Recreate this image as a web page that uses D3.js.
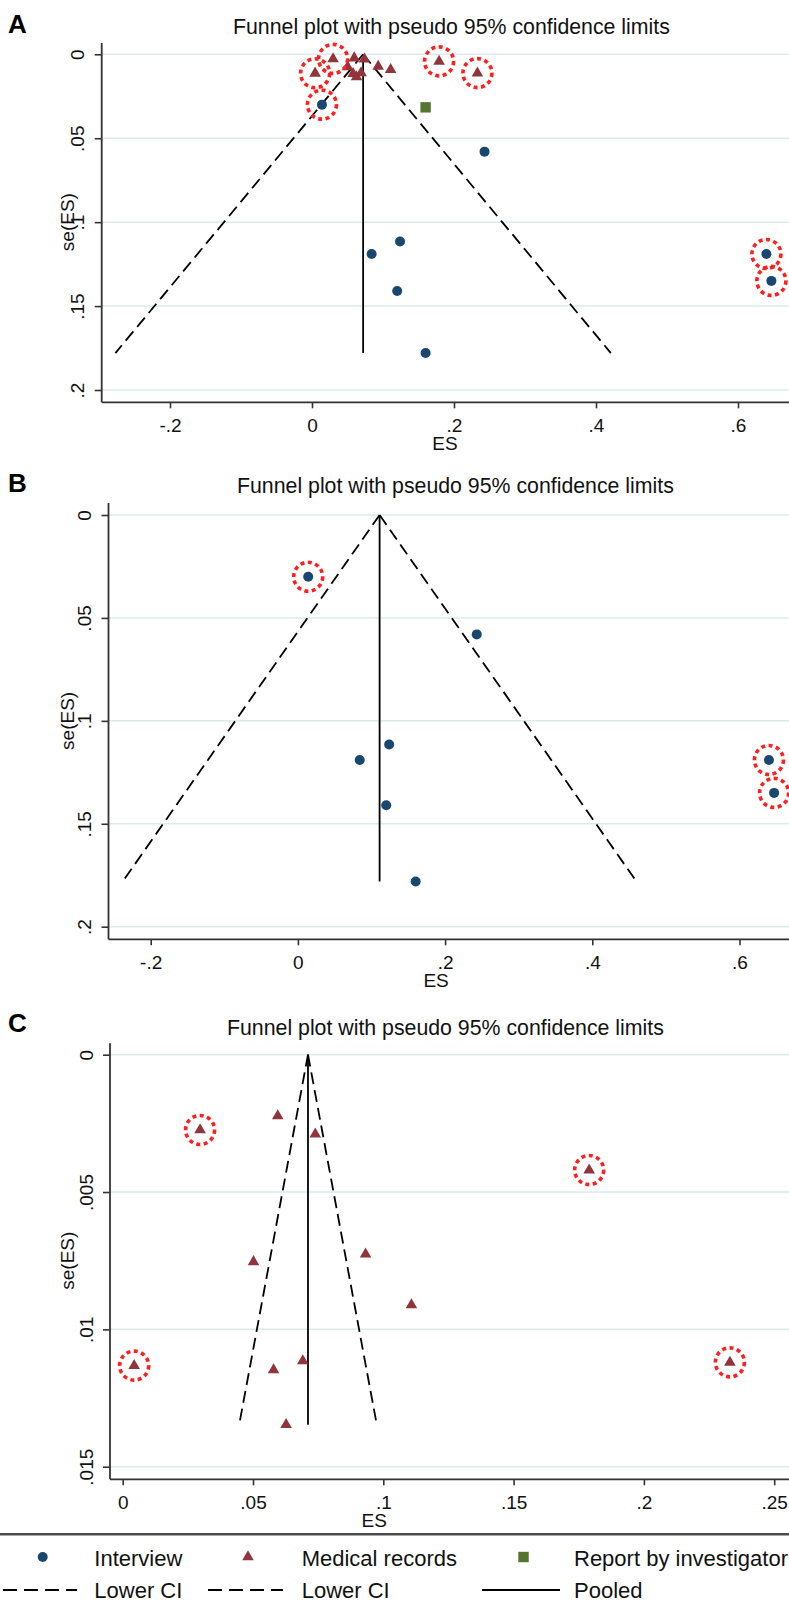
<!doctype html>
<html>
<head>
<meta charset="utf-8">
<title>Funnel plots with pseudo 95% confidence limits</title>
<style>
  body { margin: 0; background: #fff; }
  svg { display: block; font-family: "Liberation Sans", Arial, sans-serif; }
</style>
</head>
<body>
<svg width="789" height="1609"></svg>
<script src="https://d3js.org/d3.v7.min.js"></script>
<script>
// study estimates
var interviewES   = [0.014, 0.243, 0.124, 0.084, 0.120, 0.160, 0.640, 0.647];
var interviewSE   = [0.030, 0.058, 0.1115, 0.119, 0.141, 0.178, 0.119, 0.135];
var interviewFlag = [1, 0, 0, 0, 0, 0, 1, 1];

var medicalES   = [0.0595, 0.0297, 0.0739, 0.179, 0.0932, 0.0502, 0.1108, 0.0044, 0.233, 0.0691, 0.0579, 0.0627];
var medicalSE   = [0.00223, 0.00274, 0.00289, 0.0042, 0.00726, 0.00754, 0.00911, 0.01132, 0.0112, 0.01115, 0.01148, 0.01347];
var medicalFlag = [0, 1, 0, 1, 0, 0, 0, 1, 1, 0, 0, 0];

var reportES   = [0.160];
var reportSE   = [0.0316];
var reportFlag = [0];

// pooled estimate and largest se (bottom of funnel) per panel
var panelNames  = ["A", "B", "C"];
var pooledES    = [0.072, 0.111, 0.0711];
var funnelMaxSE = [0.178, 0.178, 0.01347];
var xTickValues = [[-0.2, 0, 0.2, 0.4, 0.6], [-0.2, 0, 0.2, 0.4, 0.6], [0, 0.05, 0.1, 0.15, 0.2, 0.25]];
var yTickValues = [[0, 0.05, 0.1, 0.15, 0.2], [0, 0.05, 0.1, 0.15, 0.2], [0, 0.005, 0.01, 0.015]];

var titleText = "Funnel plot with pseudo 95% confidence limits";
var legendRow1 = ["Interview", "Medical records", "Report by investigator"];
var legendRow2 = ["Lower CI", "Lower CI", "Pooled"];

var navy = "#1a476f", maroon = "#90353b", green = "#55752f", axisCol = "#333", gridCol = "#dde9ed";

function zip(es, se, flag) {
  return es.map(function(d, i) { return { es: d, se: se[i], flag: flag[i] }; });
}
var interview = zip(interviewES, interviewSE, interviewFlag),
    medical = zip(medicalES, medicalSE, medicalFlag),
    report = zip(reportES, reportSE, reportFlag);

// layout of each panel in the page
var layout = [
  { sets: ["interview", "medical", "report"], left: 101.7, top: 43, y0: 54.3, y1: 390, axisY: 402.3,
    xd: [-0.2, 0.6], xr: [170, 738], letterY: 33, titleX: 233, titleY: 34 },
  { sets: ["interview"], left: 108.5, top: 503, y0: 515, y1: 926.7, axisY: 939.3,
    xd: [-0.2, 0.6], xr: [150.7, 739.5], letterY: 492, titleX: 237, titleY: 493 },
  { sets: ["medical"], left: 110, top: 1043.3, y0: 1054.7, y1: 1466.7, axisY: 1479.3,
    xd: [0, 0.25], xr: [122.7, 774.2], letterY: 1032, titleX: 227, titleY: 1035 }
];

var svg = d3.select("svg"),
    width = +svg.attr("width");

function fmt(v) {
  if (v === 0) return "0";
  return String(+v.toFixed(4)).replace(/^(-?)0\./, "$1.");
}

layout.forEach(function(L, p) {
  var yt = yTickValues[p];
  var x = d3.scaleLinear().domain(L.xd).range(L.xr);
  var y = d3.scaleLinear().domain([0, yt[yt.length - 1]]).range([L.y0, L.y1]);
  var g = svg.append("g");

  // grid
  g.selectAll(".grid")
    .data(yt)
    .enter()
    .append("line")
    .attr("x1", L.left).attr("x2", width)
    .attr("y1", function(d) { return y(d); })
    .attr("y2", function(d) { return y(d); })
    .style("stroke", gridCol)
    .style("stroke-width", 1.5);

  // x axis
  var xa = g.append("g")
    .attr("transform", "translate(0," + L.axisY + ")")
    .call(d3.axisBottom(x).tickValues(xTickValues[p]).tickFormat(fmt).tickSize(6).tickPadding(10));
  xa.select(".domain").remove();
  xa.selectAll("line").style("stroke", axisCol).style("stroke-width", 1.6);
  xa.selectAll("text").style("font-size", "19px").style("fill", "#111");

  // y axis with rotated labels
  var ya = g.append("g")
    .attr("transform", "translate(" + L.left + ",0)")
    .call(d3.axisLeft(y).tickValues(yt).tickFormat(fmt).tickSize(7));
  ya.select(".domain").remove();
  ya.selectAll("line").style("stroke", axisCol).style("stroke-width", 1.6);
  ya.selectAll("text")
    .attr("x", 0)
    .attr("dy", "0.35em")
    .attr("text-anchor", "middle")
    .attr("transform", "translate(-24,0) rotate(-90)")
    .style("font-size", "19px").style("fill", "#111");

  g.append("line")
    .attr("x1", L.left).attr("x2", L.left).attr("y1", L.top).attr("y2", L.axisY)
    .style("stroke", axisCol).style("stroke-width", 1.8);
  g.append("line")
    .attr("x1", L.left).attr("x2", width).attr("y1", L.axisY).attr("y2", L.axisY)
    .style("stroke", axisCol).style("stroke-width", 1.8);

  // axis titles
  g.append("text")
    .attr("x", x(xTickValues[p][2]) - 9)
    .attr("y", L.axisY + 47.5)
    .attr("text-anchor", "middle")
    .style("font-size", "19px").style("fill", "#111")
    .text("ES");
  g.append("text")
    .attr("transform", "translate(67," + ((L.y0 + L.y1) / 2) + ") rotate(-90)")
    .attr("dy", "0.35em")
    .attr("text-anchor", "middle")
    .style("font-size", "19px").style("fill", "#111")
    .text("se(ES)");

  g.append("text")
    .attr("x", 8).attr("y", L.letterY)
    .style("font-size", "26px").style("font-weight", "bold")
    .text(panelNames[p]);
  g.append("text")
    .attr("x", L.titleX).attr("y", L.titleY)
    .style("font-size", "21.3px").style("fill", "#111")
    .text(titleText);

  // funnel and pooled line
  var pooled = pooledES[p], maxSE = funnelMaxSE[p];
  var line = d3.line()
    .x(function(d) { return x(d[0]); })
    .y(function(d) { return y(d[1]); });
  [-1.96, 1.96].forEach(function(z) {
    g.append("path")
      .attr("d", line([[pooled, 0], [pooled + z * maxSE, maxSE]]))
      .style("fill", "none")
      .style("stroke", "#000")
      .style("stroke-width", 1.8)
      .style("stroke-dasharray", "12,6");
  });
  g.append("path")
    .attr("d", line([[pooled, 0], [pooled, maxSE]]))
    .style("stroke", "#000")
    .style("stroke-width", 1.8);

  // markers
  var all = [];
  if (L.sets.indexOf("interview") >= 0) {
    g.selectAll(".iv")
      .data(interview)
      .enter()
      .append("circle")
      .attr("cx", function(d) { return x(d.es); })
      .attr("cy", function(d) { return y(d.se); })
      .attr("r", 5)
      .style("fill", navy);
    all = all.concat(interview);
  }
  if (L.sets.indexOf("medical") >= 0) {
    g.selectAll(".mr")
      .data(medical)
      .enter()
      .append("path")
      .attr("d", d3.symbol(d3.symbolTriangle, 58))
      .attr("transform", function(d) { return "translate(" + x(d.es) + "," + y(d.se) + ")"; })
      .style("fill", maroon);
    all = all.concat(medical);
  }
  if (L.sets.indexOf("report") >= 0) {
    g.selectAll(".rp")
      .data(report)
      .enter()
      .append("rect")
      .attr("x", function(d) { return x(d.es) - 5.2; })
      .attr("y", function(d) { return y(d.se) - 5.2; })
      .attr("width", 10.4)
      .attr("height", 10.4)
      .style("fill", green);
    all = all.concat(report);
  }

  // red dotted rings round the flagged studies
  g.selectAll(".ring")
    .data(all.filter(function(d) { return d.flag; }))
    .enter()
    .append("circle")
    .attr("cx", function(d) { return x(d.es); })
    .attr("cy", function(d) { return y(d.se); })
    .attr("r", 14.5)
    .style("fill", "none")
    .style("stroke", "#ff1f1f")
    .style("stroke-width", 3.6)
    .style("stroke-dasharray", "4,3.5");
});

// legend
var lg = svg.append("g");
lg.append("line")
  .attr("x1", 0).attr("x2", width).attr("y1", 1534.3).attr("y2", 1534.3)
  .style("stroke", "#4a4a4a").style("stroke-width", 2.5);

var colX = [94.3, 301.7, 574];
var row1Y = 1557, row2Y = 1590;

lg.append("circle").attr("cx", 42.7).attr("cy", row1Y).attr("r", 5).style("fill", navy);
lg.append("path").attr("d", d3.symbol(d3.symbolTriangle, 58))
  .attr("transform", "translate(248," + row1Y + ")").style("fill", maroon);
lg.append("rect").attr("x", 518.3).attr("y", row1Y - 5.2).attr("width", 10.4).attr("height", 10.4).style("fill", green);

lg.append("line").attr("x1", 3).attr("x2", 77).attr("y1", row2Y).attr("y2", row2Y)
  .style("stroke", "#000").style("stroke-width", 1.8).style("stroke-dasharray", "14,7");
lg.append("line").attr("x1", 208).attr("x2", 283).attr("y1", row2Y).attr("y2", row2Y)
  .style("stroke", "#000").style("stroke-width", 1.8).style("stroke-dasharray", "14,7");
lg.append("line").attr("x1", 482).attr("x2", 560).attr("y1", row2Y).attr("y2", row2Y)
  .style("stroke", "#000").style("stroke-width", 1.8);

lg.selectAll(".l1")
  .data(legendRow1)
  .enter()
  .append("text")
  .attr("x", function(d, i) { return colX[i]; })
  .attr("y", 1565.7)
  .style("font-size", "22px").style("fill", "#111")
  .text(function(d) { return d; });
lg.selectAll(".l2")
  .data(legendRow2)
  .enter()
  .append("text")
  .attr("x", function(d, i) { return colX[i]; })
  .attr("y", 1598.3)
  .style("font-size", "22px").style("fill", "#111")
  .text(function(d) { return d; });
</script>
</body>
</html>
